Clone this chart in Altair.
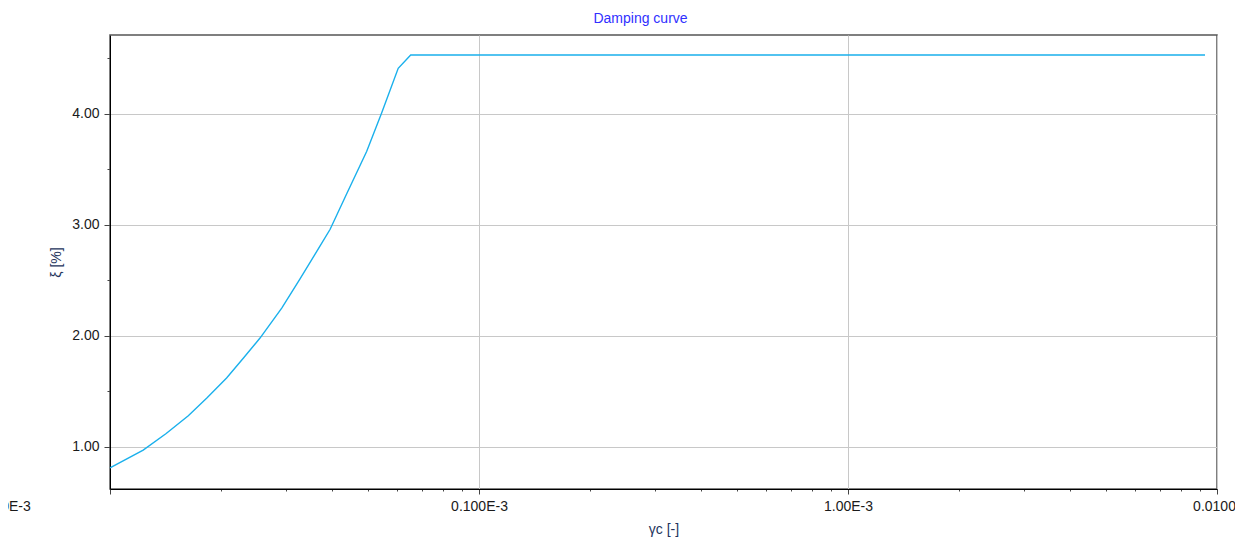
import json
import altair as alt
import pandas as pd

# ---- data ----
gamma_c = [1.00e-5, 1.23e-5, 1.42e-5, 1.63e-5, 1.83e-5, 2.07e-5, 2.30e-5, 2.55e-5,
           2.92e-5, 3.27e-5, 3.71e-5, 3.95e-5, 4.38e-5, 4.96e-5, 5.45e-5, 6.04e-5,
           6.53e-5, 9.28e-3]
xi = [0.81, 0.97, 1.12, 1.28, 1.44, 1.62, 1.80, 1.98,
      2.25, 2.51, 2.81, 2.96, 3.28, 3.66, 4.01, 4.41,
      4.53, 4.53]

x_major_labels = ["0.0100E-3", "0.100E-3", "1.00E-3", "0.0100"]
x_tick_values = [1e-5, 2e-5, 3e-5, 4e-5, 5e-5, 6e-5, 7e-5, 8e-5, 9e-5,
                 1e-4, 2e-4, 3e-4, 4e-4, 5e-4, 6e-4, 7e-4, 8e-4, 9e-4,
                 1e-3, 2e-3, 3e-3, 4e-3, 5e-3, 6e-3, 7e-3, 8e-3, 9e-3, 1e-2]
y_tick_values = [1.0, 1.5, 2.0, 2.5, 3.0, 3.5, 4.0, 4.5]

df = pd.DataFrame({"gamma_c": gamma_c, "xi": xi})

FONT = "Liberation Sans"
TITLE_COL = "#24345c"

dec = "(log(datum.value)/LN10)"
is_major_x = f"abs({dec} - round({dec})) < 0.001"
x_label_expr = f"{is_major_x} ? {json.dumps(x_major_labels)}[round({dec}) + 5] : ''"
is_major_y = "abs(datum.value - round(datum.value)) < 0.001"

x_axis = alt.Axis(
    values=x_tick_values,
    labelExpr=x_label_expr,
    labelFlush=False,
    labelOverlap=False,
    labelFont=FONT, labelFontSize=14, labelColor="#1a1a1a",
    labelPadding=5,
    labelOffset={"condition": [
        {"test": "datum.value < 1.5e-5", "value": -112},
        {"test": "datum.value > 5e-3", "value": -3},
    ], "value": 0},
    tickSize={"condition": {"test": is_major_x, "value": 5}, "value": 2},
    tickColor="#444444",
    gridOpacity={"condition": {"test": is_major_x, "value": 1}, "value": 0},
    gridColor="#c8c8c8",
    domainColor="#000000",
    title="γc [-]",
    titleFont=FONT, titleFontSize=14, titleFontWeight="normal", titleColor=TITLE_COL,
    titleY=33,
)

y_axis = alt.Axis(
    values=y_tick_values,
    labelExpr=f"{is_major_y} ? format(datum.value, '.2f') : ''",
    labelOverlap=False,
    labelFont=FONT, labelFontSize=14, labelColor="#1a1a1a",
    labelPadding=5,
    tickSize={"condition": {"test": is_major_y, "value": 6}, "value": 3},
    tickColor="#444444",
    gridOpacity={"condition": {"test": is_major_y, "value": 1}, "value": 0},
    gridColor="#c8c8c8",
    domainColor="#000000",
    title="ξ [%]",
    titleFont=FONT, titleFontSize=14, titleFontWeight="normal", titleColor=TITLE_COL,
    titleX=-47, titleY=227,
)

chart = alt.Chart(df).mark_line(color="#1ab0ec", strokeWidth=1.4).encode(
    x=alt.X("gamma_c:Q", scale=alt.Scale(type="log", domain=[1e-5, 1e-2], nice=False), axis=x_axis),
    y=alt.Y("xi:Q", scale=alt.Scale(domain=[0.62, 4.71], nice=False, zero=False), axis=y_axis),
).properties(
    width=1107,
    height=454,
    title=alt.TitleParams(
        text="Damping curve", font=FONT, fontSize=14, fontWeight="normal",
        color="#3030ff", anchor="middle", dx=-23, offset=9,
    ),
    autosize="none",
    padding={"left": 102, "top": 27, "right": 18, "bottom": 50},
).configure_view(
    stroke="#555555", strokeWidth=1.5
)

chart.save("out.html", embed_options={"renderer": "svg", "actions": False})
